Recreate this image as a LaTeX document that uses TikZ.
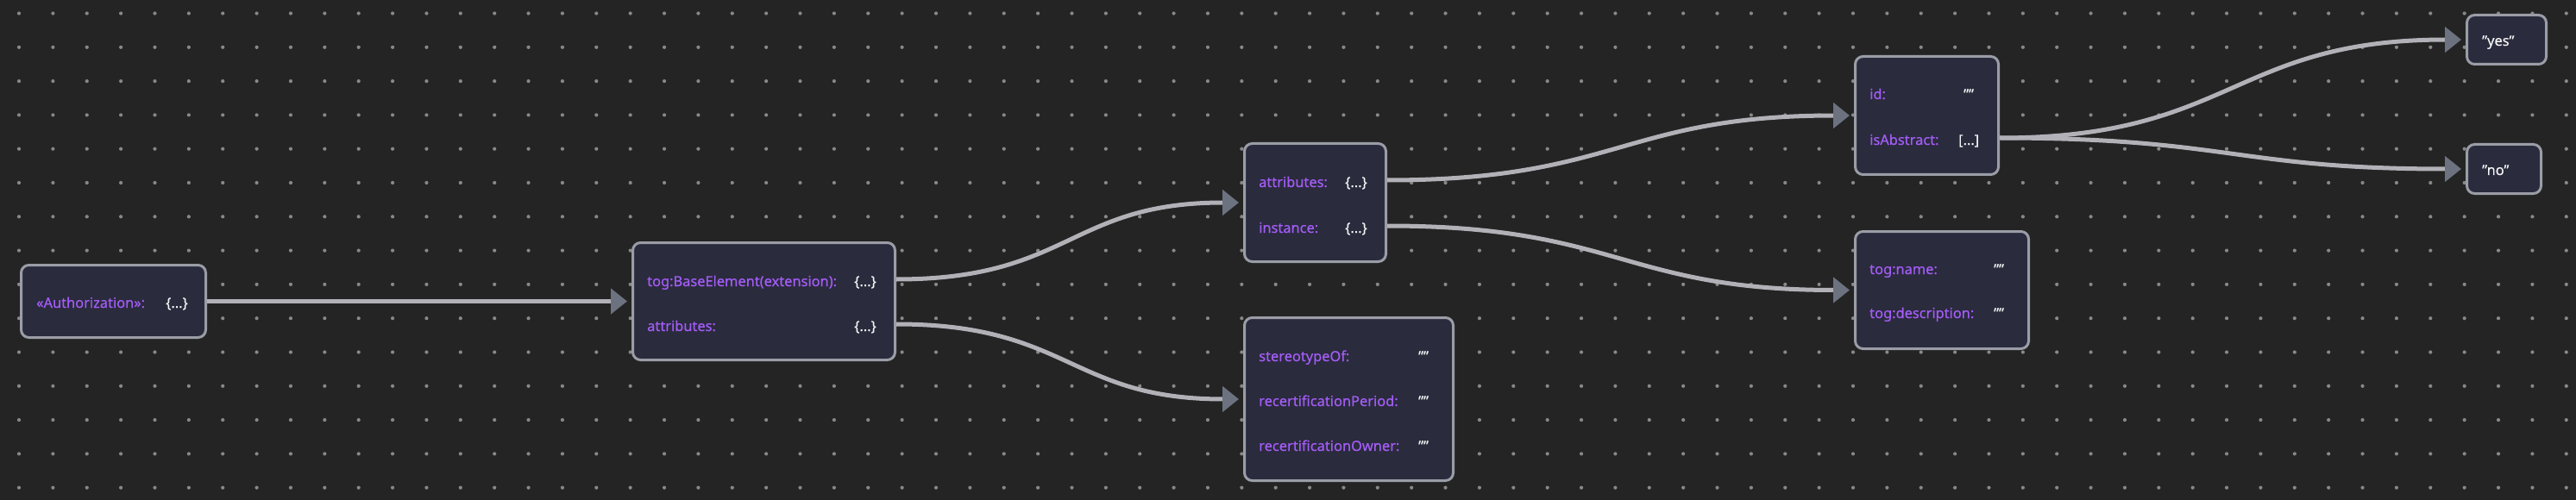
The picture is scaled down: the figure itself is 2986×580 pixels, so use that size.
\documentclass[tikz,border=0pt]{standalone}
\usepackage{fontspec}
\setmainfont{Noto Sans}[FakeBold=0.4]
\usetikzlibrary{arrows.meta}
\definecolor{bgc}{HTML}{242424}
\definecolor{dotc}{HTML}{888888}
\definecolor{fillc}{HTML}{2A2B3D}
\definecolor{edgec}{HTML}{9A9DA6}
\definecolor{wirec}{HTML}{B1B1B7}
\definecolor{tipc}{HTML}{6C7280}
\definecolor{keyc}{HTML}{A35CF5}
\definecolor{valc}{HTML}{F4F4F4}
\begin{document}
\begin{tikzpicture}[x=1pt,y=-1pt,
card/.style={draw=edgec, line width=3pt, fill=fillc, rounded corners=9pt, inner sep=0pt},
keytext/.style={anchor=west, inner sep=0pt, text height=16pt, text depth=0pt, text=keyc, font=\fontsize{16.4}{19}\selectfont},
valtext/.style={keytext, text=valc},
wire/.style={draw=wirec, line width=5pt, -{Triangle[length=19pt,width=29pt,color=tipc]}, shorten >=5pt, looseness=1.25}]
\useasboundingbox (0,0) rectangle (2986,580);
\fill[bgc] (0,0) rectangle (2986,580);
\foreach \i in {0,...,75}
  \foreach \j in {0,...,14}
    \fill[dotc] (22+39.37*\i,15.5+39.3*\j) circle (2.1pt);
\draw (131.5,349.5) node[card, minimum width=214pt, minimum height=84pt](AU){}
(885.5,349.5) node[card, minimum width=304pt, minimum height=136pt](BE){}
(1524.5,235) node[card, minimum width=164pt, minimum height=137pt](AT){}
(1563.5,463) node[card, minimum width=242pt, minimum height=189pt](ST){}
(2233.5,134) node[card, minimum width=166pt, minimum height=137pt](ID){}
(2251,336.5) node[card, minimum width=201pt, minimum height=136pt](TN){}
(2905.5,46) node[card, minimum width=92pt, minimum height=57pt](Y){}
(2902.5,196) node[card, minimum width=86pt, minimum height=57pt](N){};
\draw (42,349) node[keytext](AU1){«Authorization»:}
(192,349) node[valtext](AU1v){\{...\}};
\draw (750,324) node[keytext](BE1){tog:BaseElement(extension):}
(750,376) node[keytext](BE2){attributes:}
(990,324) node[valtext](BE1v){\{...\}}
(990,376) node[valtext](BE2v){\{...\}};
\draw (1459,209) node[keytext](AT1){attributes:}
(1459,262) node[keytext](AT2){instance:}
(1559,209) node[valtext](AT1v){\{...\}}
(1559,262) node[valtext](AT2v){\{...\}};
\draw (1459,411) node[keytext](ST1){stereotypeOf:}
(1459,463) node[keytext](ST2){recertificationPeriod:}
(1459,515) node[keytext](ST3){recertificationOwner:}
(1644,411) node[valtext](ST1v){""}
(1644,463) node[valtext](ST2v){""}
(1644,515) node[valtext](ST3v){""};
\draw (2167,107) node[keytext](ID1){id:}
(2167,160) node[keytext](ID2){isAbstract:}
(2276,107) node[valtext](ID1v){""}
(2270,160) node[valtext](ID2v){[...]};
\draw (2167,310) node[keytext](TN1){tog:name:}
(2167,361) node[keytext](TN2){tog:description:}
(2311,310) node[valtext](TN1v){""}
(2311,361) node[valtext](TN2v){""};
\draw (2877,45) node[valtext](Yv){"yes"}
(2877,195) node[valtext](Nv){"no"};
\draw [wire] (AU)--(BE);
\draw [wire] (BE.east |- BE1) to[out=0,in=180] (AT.west);
\draw [wire] (BE.east |- BE2) to[out=0,in=180] (ST.west);
\draw [wire] (AT.east |- AT1) to[out=0,in=180] (ID.west);
\draw [wire] (AT.east |- AT2) to[out=0,in=180] (TN.west);
\draw [wire] (ID.east |- ID2) to[out=0,in=180] (Y.west);
\draw [wire] (ID.east |- ID2) to[out=0,in=180] (N.west);
\end{tikzpicture}
\end{document}
